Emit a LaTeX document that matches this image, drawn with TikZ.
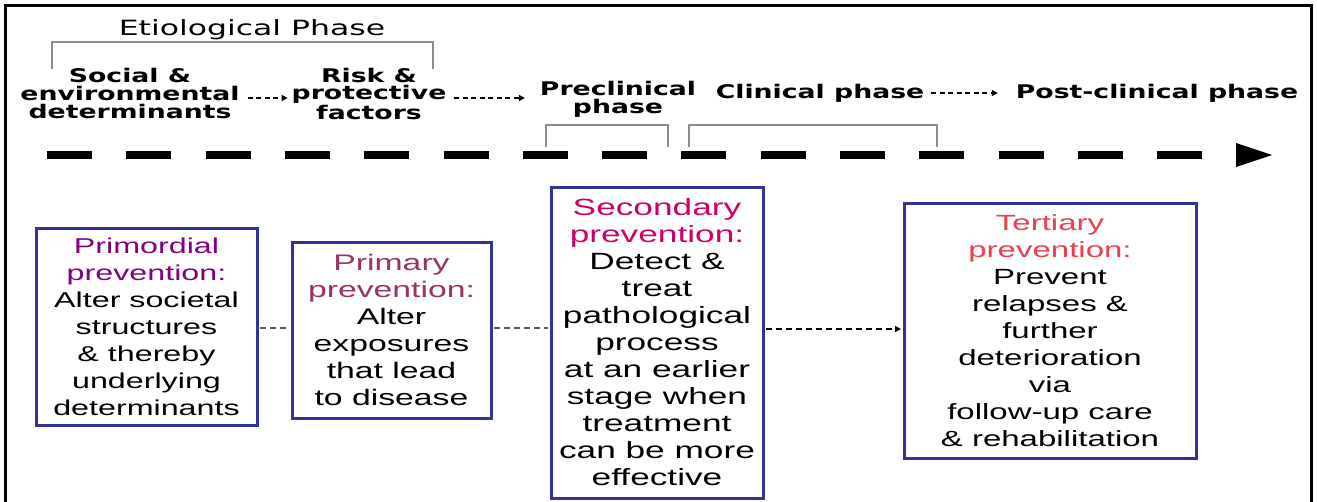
\documentclass[tikz,border=0pt]{standalone}
\usepackage{fontspec}
\usetikzlibrary{arrows.meta}
\newfontfamily\vfont[FakeStretch=1.5]{DejaVu Sans}
\newfontfamily\vbfont[FakeStretch=1.42]{DejaVu Sans}
\newfontfamily\afont[FakeStretch=1.5]{Liberation Sans}
\definecolor{boxblue}{RGB}{51,51,153}
\definecolor{primcol}{RGB}{128,0,128}
\definecolor{primarycol}{RGB}{153,51,102}
\definecolor{seccol}{RGB}{204,0,102}
\definecolor{tercol}{RGB}{232,64,76}
\definecolor{brackgray}{RGB}{140,140,140}
\definecolor{dashgray}{RGB}{90,90,90}
\begin{document}
\begin{tikzpicture}[x=1pt,y=-1pt,
  toplabel/.style={font={\vbfont\bfseries\fontsize{18.8pt}{17.8pt}\selectfont}, align=center, inner sep=0pt, outer sep=0pt},
  phasetitle/.style={font={\vfont\fontsize{21pt}{24pt}\selectfont}, inner sep=0pt},
  prevbox/.style={draw=boxblue, line width=3pt, fill=white, align=center, inner sep=0pt},
  boxfont/.style={font={\afont\fontsize{#1}{27pt}\selectfont}},
  bracket/.style={draw=brackgray, line width=1.4pt},
  timeline/.style={line width=8pt, dash pattern=on 45pt off 34.3pt},
  smallarrow/.style={line width=1.4pt, dash pattern=on 5pt off 3.5pt, -{Triangle[length=6pt,width=6pt]}},
  linkline/.style={draw=dashgray, line width=1.2pt, dash pattern=on 6pt off 4pt},
  linkarrow/.style={line width=1.2pt, dash pattern=on 6pt off 4pt, -{Triangle[length=6pt,width=6pt]}},
  frameline/.style={line width=3pt}
]
\useasboundingbox (0,0) rectangle (1317,501);
\begin{scope}
\clip (0,0) rectangle (1317,501);
\draw[frameline] (5.5,520) -- (5.5,5.5) -- (1311.5,5.5) -- (1311.5,520);
\end{scope}

% phase labels
\node[phasetitle] (etio) at (252,29.5) {Etiological Phase};
\node[toplabel] (soc) at (130,93.5) {Social \&\\environmental\\determinants};
\node[toplabel] (risk) at (369,93.5) {Risk \&\\protective\\factors};
\node[toplabel] (pre) at (618,99) {Preclinical\\phase};
\node[toplabel] (clin) at (820,93.5) {Clinical phase};
\node[toplabel] (post) at (1157,93.5) {Post-clinical phase};

% brackets
\coordinate (eL) at (52,69); \coordinate (eR) at (433,69);
\draw[bracket] (eL) -- ++(0,-27) -| (eR);
\coordinate (pL) at (546,147); \coordinate (pR) at (668,147);
\draw[bracket] (pL) -- ++(0,-22) -| (pR);
\coordinate (cL) at (689,147); \coordinate (cR) at (937,147);
\draw[bracket] (cL) -- ++(0,-22) -| (cR);

% timeline
\coordinate (tlS) at (47,155); \coordinate (tlE) at (1236,155); \coordinate (tlT) at (1272,155);
\coordinate (tlU) at (1236,143); \coordinate (tlD) at (1236,167);
\draw[timeline] (tlS) -- (tlE);
\fill (tlU) -- (tlT) -- (tlD) -- cycle;

% small arrows between phases
\coordinate (ya) at (0,98); \coordinate (yc) at (0,93);
\draw[smallarrow, shorten <=8pt, shorten >=4pt] (soc.east |- ya) -- (risk.west |- ya);
\draw[smallarrow, shorten <=8pt, shorten >=15pt] (risk.east |- ya) -- (pre.west |- ya);
\draw[smallarrow, shorten <=7pt, shorten >=18pt] (clin.east |- yc) -- (post.west |- yc);

% prevention boxes
\node[prevbox, boxfont=21.5pt, minimum width=221pt, minimum height=197pt] (prim) at (146.5,326.5)
  {\textcolor{primcol}{Primordial}\\\textcolor{primcol}{prevention:}\\Alter societal\\structures\\\& thereby\\underlying\\determinants};
\node[prevbox, boxfont=22.5pt, minimum width=199pt, minimum height=176pt] (primy) at (391.5,330)
  {\textcolor{primarycol}{Primary}\\\textcolor{primarycol}{prevention:}\\Alter\\exposures\\that lead\\to disease};
\node[prevbox, boxfont=23.5pt, minimum width=212pt, minimum height=311pt] (sec) at (657,342.5)
  {\textcolor{seccol}{Secondary}\\\textcolor{seccol}{prevention:}\\Detect \&\\treat\\pathological\\process\\at an earlier\\stage when\\treatment\\can be more\\effective};
\node[prevbox, boxfont=22pt, minimum width=292pt, minimum height=255pt] (ter) at (1050,330.5)
  {\textcolor{tercol}{Tertiary}\\\textcolor{tercol}{prevention:}\\Prevent\\relapses \&\\further\\deterioration\\via\\follow-up care\\\& rehabilitation};

% connectors between boxes
\coordinate (yb) at (0,328); \coordinate (yd) at (0,329);
\draw[linkline, shorten <=1.5pt, shorten >=1.5pt] (prim.east |- yb) -- (primy.west |- yb);
\draw[linkline, shorten <=1.5pt, shorten >=1.5pt] (primy.east |- yb) -- (sec.west |- yb);
\draw[linkarrow, shorten <=1.5pt, shorten >=1.5pt] (sec.east |- yd) -- (ter.west |- yd);
\end{tikzpicture}
\end{document}
